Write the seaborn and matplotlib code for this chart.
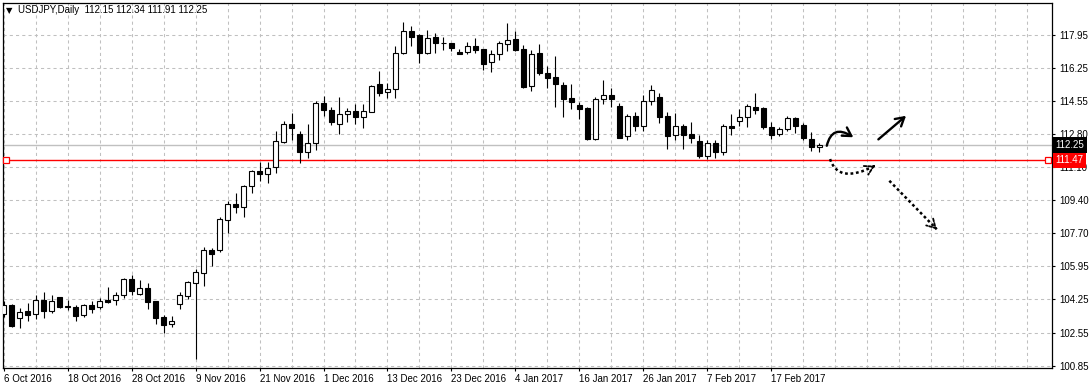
import numpy as np
import pandas as pd
import matplotlib
matplotlib.use("Agg")
import matplotlib.pyplot as plt
import seaborn as sns
from matplotlib.path import Path
from matplotlib.patches import FancyArrowPatch

# ---------------- data ----------------
opens = [103.51, 103.98, 103.29, 103.65, 103.50, 104.22, 103.68, 104.38, 103.94, 103.88,
         103.45, 103.98, 103.86, 104.22, 104.22, 104.48, 105.31, 104.56, 104.86, 104.19,
         103.36, 103.00, 104.01, 104.47, 105.14, 105.66, 106.81, 106.85, 108.40, 109.19,
         109.07, 110.13, 110.90, 110.78, 111.10, 112.43, 113.34, 112.81, 111.91, 112.35,
         114.42, 114.07, 113.33, 113.85, 114.00, 113.72, 113.99, 115.40, 114.98, 115.14,
         117.00, 118.14, 117.95, 117.03, 117.82, 117.53, 117.53, 117.07, 117.05, 117.36,
         117.21, 116.53, 116.99, 117.47, 117.73, 117.21, 115.33, 117.00, 115.97, 115.76,
         115.36, 114.67, 114.31, 114.16, 112.58, 114.62, 114.83, 114.26, 112.71, 113.74,
         113.26, 114.52, 114.73, 113.76, 112.76, 113.23, 112.83, 112.46, 111.69, 112.35,
         111.91, 113.23, 113.52, 113.69, 114.22, 114.17, 113.20, 112.83, 113.07, 113.67,
         113.29, 112.57, 112.15]
highs = [104.19, 104.03, 103.81, 104.08, 104.50, 104.64, 104.50, 104.41, 104.24, 103.98,
         104.03, 104.20, 104.34, 104.93, 104.64, 105.38, 105.53, 105.27, 105.10, 104.21,
         103.46, 103.41, 104.65, 105.22, 105.84, 106.96, 106.92, 108.51, 109.35, 109.77,
         110.21, 110.95, 111.36, 111.37, 112.98, 113.50, 113.93, 112.98, 113.34, 114.53,
         114.79, 114.24, 114.74, 114.19, 114.36, 114.36, 115.35, 116.09, 115.47, 117.38,
         118.62, 118.41, 117.98, 118.21, 118.04, 117.84, 117.56, 117.20, 117.58, 117.78,
         117.24, 117.17, 117.62, 118.55, 118.17, 117.43, 117.17, 117.47, 116.33, 116.86,
         115.50, 115.41, 114.48, 114.21, 114.73, 115.61, 115.19, 114.42, 113.86, 113.95,
         114.83, 115.38, 114.93, 113.97, 113.93, 113.34, 113.43, 112.78, 112.52, 112.52,
         113.33, 113.85, 114.12, 114.38, 114.93, 114.21, 113.46, 113.20, 113.77, 113.72,
         113.41, 112.95, 112.34]
lows = [103.36, 102.86, 102.81, 103.17, 103.27, 103.32, 103.58, 103.81, 103.71, 103.17,
        103.34, 103.55, 103.76, 104.10, 104.00, 104.33, 104.48, 104.48, 103.79, 103.02,
        102.55, 102.82, 103.79, 104.31, 101.20, 104.96, 106.00, 106.74, 107.70, 108.74,
        108.55, 109.80, 110.41, 110.27, 110.82, 112.35, 112.52, 111.34, 111.60, 112.00,
        113.76, 113.29, 112.84, 113.46, 113.34, 113.12, 113.97, 114.81, 114.69, 114.70,
        116.95, 117.40, 116.52, 116.96, 117.04, 117.19, 117.12, 116.95, 116.99, 117.00,
        116.15, 116.02, 116.67, 117.13, 117.14, 115.19, 115.03, 115.88, 115.19, 114.21,
        113.72, 114.14, 113.59, 112.52, 112.52, 114.36, 114.21, 112.62, 112.50, 113.00,
        113.00, 114.34, 113.41, 112.04, 112.52, 112.04, 112.35, 111.60, 111.53, 111.60,
        111.74, 112.78, 113.24, 113.19, 113.85, 113.09, 112.55, 112.71, 113.00, 112.86,
        112.53, 111.93, 111.91]
closes = [103.98, 102.91, 103.60, 103.48, 104.22, 103.68, 104.17, 103.89, 103.86, 103.43,
          103.98, 103.79, 104.19, 104.13, 104.48, 105.32, 104.72, 104.84, 104.15, 103.29,
          102.97, 103.14, 104.48, 105.15, 105.67, 106.81, 106.62, 108.42, 109.19, 109.07,
          110.12, 110.90, 110.78, 111.08, 112.45, 113.33, 113.15, 111.91, 112.35, 114.42,
          114.05, 113.46, 113.85, 114.00, 113.72, 114.00, 115.30, 114.96, 115.14, 117.00,
          118.14, 117.86, 117.03, 117.78, 117.52, 117.51, 117.26, 116.99, 117.36, 117.19,
          116.47, 116.96, 117.52, 117.68, 117.19, 115.27, 116.96, 115.96, 115.74, 115.40,
          114.65, 114.50, 114.14, 112.57, 114.62, 114.83, 114.62, 112.64, 113.74, 113.26,
          114.52, 115.09, 113.72, 112.74, 113.23, 112.76, 112.60, 111.69, 112.35, 111.91,
          113.24, 113.15, 113.69, 114.26, 114.08, 113.17, 112.79, 113.07, 113.67, 113.26,
          112.60, 112.14, 112.25]

date_labels = ["6 Oct 2016", "18 Oct 2016", "28 Oct 2016", "9 Nov 2016", "21 Nov 2016",
               "1 Dec 2016", "13 Dec 2016", "23 Dec 2016", "4 Jan 2017", "16 Jan 2017",
               "26 Jan 2017", "7 Feb 2017", "17 Feb 2017"]
price_labels = ["100.85", "102.55", "104.25", "105.95", "107.70", "109.40",
                "111.10", "112.80", "114.55", "116.25", "117.95"]
symbol = "USDJPY,Daily"
last_bar = [112.15, 112.34, 111.91, 112.25]
bid_price = 112.25
level_price = 111.47

# hand-drawn scenario arrows (bar index, price)
arrow_up_curve = [(102.93, 112.22), (103.6, 113.35), (106.25, 112.66)]
arrow_up_straight = [(109.38, 112.55), (112.84, 113.77)]
arrow_dn_curve = [(103.34, 111.53), (104.34, 110.20), (108.96, 111.19)]
arrow_dn_straight = [(110.75, 110.41), (116.68, 107.90)]

df = pd.DataFrame({"open": opens, "high": highs, "low": lows, "close": closes})
df["idx"] = np.arange(len(df))
df["bull"] = df["close"] >= df["open"]

# ---------------- figure ----------------
sns.set_theme(style="white")
plt.rcParams["font.family"] = ["Liberation Sans", "DejaVu Sans"]

W, H = 1091, 389
fig = plt.figure(figsize=(W / 100, H / 100), dpi=100)
ax = fig.add_axes([3 / W, 1 - 367.5 / H, (1052 - 3) / W, (367.5 - 2.7) / H])
ax.set_facecolor("white")

grid_c = "#c0c0c0"
for gx in range(0, 132, 4):
    ax.axvline(gx, color=grid_c, lw=0.75, ls=(0, (3, 3)), zorder=0)
yt = np.linspace(100.85, 117.95, 11)
for gy in yt:
    ax.axhline(gy, color=grid_c, lw=0.75, ls=(0, (3, 3)), zorder=0)

ax.axhline(bid_price, color="#c0c0c0", lw=1.0, zorder=1)
ax.axhline(level_price, color="#ff0000", lw=1.0, zorder=1)
ax.plot([0.25, 130.6], [level_price, level_price], ls="none", marker="s", ms=4,
        mfc="white", mec="#ff0000", mew=0.9, zorder=5, clip_on=False)

# candles
ax.vlines(df["idx"], df["low"], df["high"], color="black", lw=0.8, zorder=2)
bw = 0.6
bull = df[df["bull"]]
bear = df[~df["bull"]]
ax.bar(bull["idx"], bull["close"] - bull["open"], bottom=bull["open"], width=bw,
       color="white", edgecolor="black", linewidth=0.8, zorder=3)
ax.bar(bear["idx"], bear["open"] - bear["close"], bottom=bear["close"], width=bw,
       color="black", edgecolor="black", linewidth=0.8, zorder=3)

def curve_arrow(pts, dotted):
    if len(pts) == 3:
        path = Path(pts, [Path.MOVETO, Path.CURVE3, Path.CURVE3])
    else:
        path = Path(pts, [Path.MOVETO, Path.LINETO])
    if not dotted:
        ax.add_patch(FancyArrowPatch(path=path, arrowstyle="->,head_length=6,head_width=3.5",
                                     color="black", lw=1.7, zorder=6, capstyle="round"))
        return
    ax.add_patch(FancyArrowPatch(path=path, arrowstyle="-", color="black", lw=1.8,
                                 linestyle=(0, (1.1, 1.1)), capstyle="butt", zorder=6))
    (x0, y0), (x1, y1) = pts[-2], pts[-1]
    tail = (x1 - 0.03 * (x1 - x0), y1 - 0.03 * (y1 - y0))
    ax.add_patch(FancyArrowPatch(tail, (x1, y1), arrowstyle="->,head_length=6,head_width=3.5",
                                 color="black", lw=1.3, linestyle=(0, (1.5, 1.0)),
                                 zorder=6, shrinkA=0, shrinkB=0))

curve_arrow(arrow_up_curve, False)
curve_arrow(arrow_up_straight, False)
curve_arrow(arrow_dn_curve, True)
curve_arrow(arrow_dn_straight, True)

ax.set_xlim(-0.075, 131.09)
ax.set_ylim(100.75, 119.62)

for s in ax.spines.values():
    s.set_color("black")
    s.set_linewidth(0.9)
ax.yaxis.tick_right()
ax.set_yticks(yt)
ax.set_yticklabels(price_labels)
ax.set_xticks(np.arange(0, 8 * len(date_labels), 8))
ax.set_xticklabels(date_labels, ha="left")
ax.tick_params(axis="both", which="major", direction="out", length=2.5, width=0.8,
               color="black", labelsize=7, labelcolor="black")
ax.tick_params(axis="y", pad=2.5, right=True, left=False)
ax.tick_params(axis="x", pad=2, bottom=True)

ax.annotate(f"{bid_price:.2f}", xy=(1, bid_price), xycoords=("axes fraction", "data"),
            xytext=(2.6, 0), textcoords="offset points", ha="left", va="center",
            fontsize=7, color="white", annotation_clip=False,
            bbox=dict(boxstyle="square,pad=0.28", fc="black", ec="none"), zorder=10)
ax.annotate(f"{level_price:.2f}", xy=(1, level_price), xycoords=("axes fraction", "data"),
            xytext=(2.6, 0), textcoords="offset points", ha="left", va="center",
            fontsize=7, color="white", annotation_clip=False,
            bbox=dict(boxstyle="square,pad=0.28", fc="#ff0000", ec="none"), zorder=10)

fig.text(9.5 / W, 1 - 10.5 / H, "\u25BC", fontsize=6, color="black", ha="center",
         va="center", family=["DejaVu Sans"])
fig.text(18 / W, 1 - 10 / H,
         symbol + "  " + " ".join(f"{v:.2f}" for v in last_bar),
         fontsize=7, color="black", ha="left", va="center")

fig.savefig("out.png", dpi=100, facecolor="white")
